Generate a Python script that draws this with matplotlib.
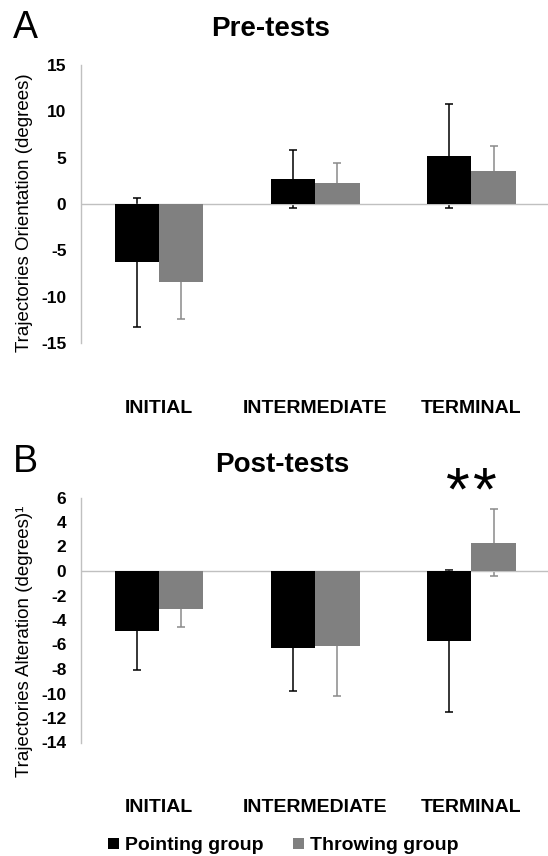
import matplotlib
matplotlib.use("Agg")
import matplotlib.pyplot as plt
from matplotlib.patches import Patch
import numpy as np

plt.rcParams['font.family'] = ['Liberation Sans', 'DejaVu Sans']
plt.rcParams['axes.unicode_minus'] = False

# ---- data ----
categories = ["INITIAL", "INTERMEDIATE", "TERMINAL"]
groups = ["Pointing group", "Throwing group"]

pre_pointing = [-6.3, 2.7, 5.2]
pre_pointing_err = [7.0, 3.15, 5.6]
pre_throwing = [-8.4, 2.3, 3.55]
pre_throwing_err = [4.0, 2.15, 2.7]

post_pointing = [-4.87, -6.26, -5.69]
post_pointing_err = [3.2, 3.56, 5.8]
post_throwing = [-3.1, -6.12, 2.31]
post_throwing_err = [1.47, 4.08, 2.75]

pre_ticks = [15, 10, 5, 0, -5, -10, -15]
post_ticks = [6, 4, 2, 0, -2, -4, -6, -8, -10, -12, -14]

# ---- style ----
W, H = 548, 856
black = "#000000"
gray = "#808080"
gray_err = "#8a8a8a"
axis_col = "#c0c0c0"
bar_w = 0.284

fig = plt.figure(figsize=(W / 100, H / 100), dpi=100)

def fx(px):
    return px / W

def fy(py):
    return 1 - py / H

ax1 = fig.add_axes([fx(81), fy(343), fx(548) - fx(81), fy(65) - fy(343)])
ax2 = fig.add_axes([fx(81), fy(742.5), fx(548) - fx(81), fy(497.5) - fy(742.5)])

def draw(ax, p, perr, t, terr, ticks, ylim):
    x = np.arange(len(categories))
    ax.errorbar(x - bar_w / 2, p, yerr=perr, fmt='none', ecolor=black,
                elinewidth=1.1, capsize=3, capthick=1.1, zorder=1)
    ax.errorbar(x + bar_w / 2, t, yerr=terr, fmt='none', ecolor=gray_err,
                elinewidth=1.1, capsize=3, capthick=1.1, zorder=1)
    ax.bar(x - bar_w / 2, p, width=bar_w, color=black, zorder=2)
    ax.bar(x + bar_w / 2, t, width=bar_w, color=gray, zorder=2)
    ax.axhline(0, color=axis_col, lw=1.0, zorder=1.5)
    ax.set_xlim(-0.5, 2.49)
    ax.set_ylim(*ylim)
    ax.set_yticks(ticks)
    ax.set_yticklabels([str(v) for v in ticks], fontsize=12.5, fontweight='bold')
    ax.set_xticks(x)
    ax.set_xticklabels(categories, fontsize=14, fontweight='bold')
    ax.tick_params(axis='y', length=0, pad=10.5)
    ax.tick_params(axis='x', length=0, pad=41)
    for s in ['top', 'right', 'bottom']:
        ax.spines[s].set_visible(False)
    ax.spines['left'].set_color(axis_col)
    ax.spines['left'].set_linewidth(1.0)
    ax.set_facecolor('none')

draw(ax1, pre_pointing, pre_pointing_err, pre_throwing, pre_throwing_err,
     pre_ticks, (-15, 15))
draw(ax2, post_pointing, post_pointing_err, post_throwing, post_throwing_err,
     post_ticks, (-14, 6))

# significance marker above TERMINAL (post-tests): two asterisks
for dx in (-0.088, 0.088):
    ax2.text(2 + dx, 5.0, "*", ha='center', va='baseline', fontsize=44,
             fontweight='normal', clip_on=False)

# y labels
fig.text(fx(25), fy(213), "Trajectories Orientation (degrees)", rotation=90,
         ha='center', va='center', fontsize=13.5)
fig.text(fx(25), fy(641), "Trajectories Alteration (degrees)\u00b9", rotation=90,
         ha='center', va='center', fontsize=13.5)

# titles and panel letters
fig.text(fx(211), fy(36), "Pre-tests", ha='left', va='baseline',
         fontsize=20, fontweight='bold')
fig.text(fx(215), fy(472), "Post-tests", ha='left', va='baseline',
         fontsize=20, fontweight='bold')
fig.text(fx(13), fy(38), "A", ha='left', va='baseline', fontsize=27)
fig.text(fx(13), fy(472), "B", ha='left', va='baseline', fontsize=27)

# legend
handles = [Patch(facecolor=black, edgecolor='none'),
           Patch(facecolor=gray, edgecolor='none')]
fig.legend(handles, groups, loc='center', bbox_to_anchor=(fx(283), fy(846)),
           ncol=2, frameon=False, prop={'size': 14, 'weight': 'bold'},
           handlelength=0.55, handleheight=0.55, handletextpad=0.3,
           columnspacing=1.54, borderpad=0, borderaxespad=0)

fig.savefig("out.png", dpi=100)
